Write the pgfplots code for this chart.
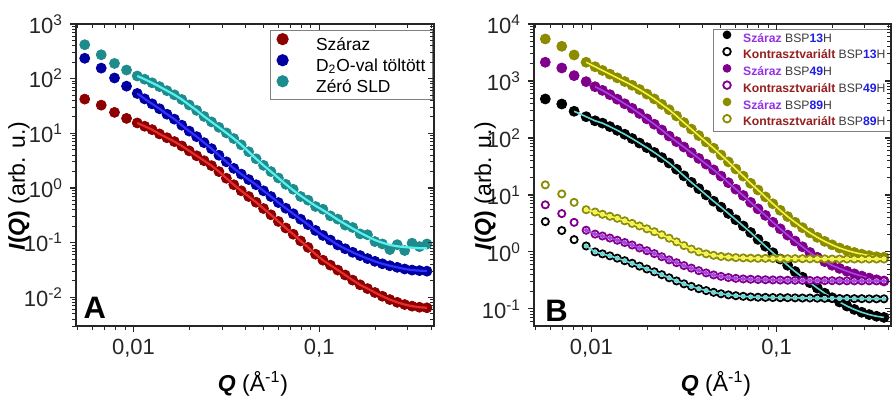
\documentclass[border=0pt]{standalone}
\usepackage{pgfplots}
\pgfplotsset{compat=1.18}
\usepackage{pgfplotstable}
\usepackage{fontspec}
\setmainfont{Liberation Sans}
\definecolor{cRed}{RGB}{140,0,0}
\definecolor{cRedFit}{RGB}{230,45,45}
\definecolor{cBlue}{RGB}{0,0,160}
\definecolor{cBlueFit}{RGB}{50,50,255}
\definecolor{cTeal}{RGB}{30,140,140}
\definecolor{cTealFit}{RGB}{90,240,240}
\definecolor{cPurp}{RGB}{128,0,140}
\definecolor{cPurpFit}{RGB}{165,70,225}
\definecolor{cOlive}{RGB}{140,140,0}
\definecolor{cOliveFit}{RGB}{245,245,70}
\definecolor{cCyanFit}{RGB}{100,215,215}
\definecolor{cViolet}{RGB}{150,50,230}
\definecolor{cBrown}{RGB}{150,30,30}
\definecolor{cNum}{RGB}{30,30,230}
\definecolor{cGrayT}{RGB}{60,60,60}

\pgfplotstableread{
Q R B T Tf
0.00546 42.3 236 418 418
0.0067 32.8 156 274 274
0.0079 24.2 103 190 190
0.00917 18.8 73 144 144
0.01047 15.5 53.7 112 112
0.01148 13.5 42.7 97.7 97.7
0.01259 11.7 34.7 84.1 84.1
0.01380 9.77 28.2 71.6 71.6
0.01514 8.32 22.4 60.3 60.3
0.01660 7.08 18.2 50.7 50.7
0.01820 5.89 14.1 41.7 41.7
0.01995 4.79 11.0 33.1 33.1
0.02188 3.89 8.71 26.3 26.3
0.02399 3.16 6.76 20.4 20.4
0.02630 2.57 5.25 16.2 16.2
0.02884 2.00 3.98 12.9 12.9
0.03162 1.51 3.02 10.2 10.2
0.03467 1.15 2.29 8.04 8.04
0.03802 0.891 1.80 6.17 6.17
0.04169 0.700 1.43 4.62 4.62
0.04571 0.550 1.15 3.43 3.43
0.05012 0.422 0.891 2.60 2.60
0.05495 0.324 0.700 2.00 2.00
0.06026 0.245 0.543 1.53 1.53
0.06607 0.186 0.427 1.17 1.17
0.07244 0.143 0.339 0.95 0.912
0.07943 0.108 0.269 0.70 0.724
0.08710 0.0822 0.214 0.60 0.582
0.09550 0.0617 0.168 0.46 0.473
0.1047 0.0479 0.136 0.41 0.394
0.1148 0.0389 0.112 0.31 0.324
0.1259 0.0316 0.0912 0.27 0.263
0.1380 0.0257 0.0776 0.21 0.219
0.1514 0.0207 0.0668 0.19 0.182
0.1660 0.0170 0.0582 0.145 0.153
0.1820 0.0145 0.0513 0.14 0.130
0.1995 0.0123 0.0457 0.105 0.112
0.2188 0.0105 0.0412 0.095 0.100
0.2399 0.00912 0.0380 0.075 0.0912
0.2630 0.00813 0.0355 0.092 0.0861
0.2884 0.00741 0.0331 0.072 0.0832
0.3162 0.00692 0.0316 0.098 0.0813
0.3467 0.00661 0.0309 0.085 0.0794
0.3802 0.00646 0.0302 0.095 0.0794
}\tabA

\pgfplotstableread{
Q K P O Ko Po Oo
0.00564 483 2130 5460 3.4 6.7 15
0.00692 394 1690 4060 2.37 4.7 10.4
0.00807 294 1240 2860 1.64 3.3 7.4
0.00937 236 973 2130 1.27 2.4 5.5
0.01047 200 794 1778 1.00 2.05 5.01
0.01148 182 684 1531 0.923 1.90 4.57
0.01259 158 575 1318 0.851 1.75 4.22
0.01380 136 479 1135 0.776 1.60 3.89
0.01514 116 398 977 0.700 1.46 3.51
0.01660 97.7 331 841 0.631 1.32 3.16
0.01820 81.3 269 708 0.562 1.17 2.85
0.01995 67.6 216 589 0.501 1.05 2.54
0.02188 55.6 174 484 0.447 0.933 2.26
0.02399 45.2 138 389 0.398 0.822 2.00
0.02630 36.3 108 313 0.351 0.724 1.74
0.02884 28.2 86.1 243 0.309 0.646 1.50
0.03162 21.6 69.2 186 0.275 0.575 1.29
0.03467 16.6 55.0 143 0.248 0.519 1.12
0.03802 12.9 43.7 110 0.226 0.468 1.00
0.04169 10.0 34.7 85.1 0.209 0.427 0.923
0.04571 7.76 27.5 66.1 0.195 0.394 0.871
0.05012 6.10 21.4 50.1 0.184 0.372 0.832
0.05495 4.73 16.4 38.0 0.176 0.355 0.813
0.06026 3.67 12.6 28.5 0.170 0.343 0.794
0.06607 2.85 9.77 21.4 0.166 0.335 0.785
0.07244 2.19 7.41 16.0 0.162 0.331 0.776
0.07943 1.66 5.69 12.2 0.160 0.327 0.77
0.08710 1.26 4.37 9.23 0.159 0.324 0.77
0.09550 0.966 3.31 7.00 0.158 0.322 0.765
0.1047 0.750 2.54 5.37 0.157 0.320 0.765
0.1148 0.582 1.97 4.17 0.157 0.318 0.76
0.1259 0.452 1.55 3.31 0.156 0.317 0.76
0.1380 0.359 1.23 2.66 0.155 0.316 0.76
0.1514 0.288 0.977 2.16 0.155 0.315 0.755
0.1660 0.232 0.804 1.80 0.154 0.314 0.755
0.1820 0.188 0.676 1.53 0.153 0.313 0.755
0.1995 0.157 0.582 1.33 0.153 0.312 0.75
0.2188 0.132 0.513 1.17 0.152 0.311 0.75
0.2399 0.112 0.457 1.06 0.152 0.31 0.75
0.2630 0.0977 0.412 0.977 0.151 0.31 0.75
0.2884 0.0871 0.376 0.912 0.151 0.31 0.75
0.3162 0.0794 0.347 0.861 0.150 0.31 0.75
0.3467 0.0741 0.324 0.822 0.150 0.31 0.75
0.3802 0.0708 0.309 0.804 0.150 0.31 0.75
}\tabB

\begin{document}
\begin{tikzpicture}
\useasboundingbox (0,0) rectangle (446.5pt,198.5pt);

% ---------- Panel A ----------
\begin{axis}[scale only axis, width=179pt, height=151pt,
  xmode=log, ymode=log, xmin=0.0049, xmax=0.415, ymin=0.003, ymax=1000,
  at={(38pt,35.5pt)}, anchor=south west, clip marker paths=true,
  xtick={0.01,0.1}, xticklabels={{0,01},{0,1}},
  minor xtick={0.005,0.006,0.007,0.008,0.009,0.02,0.03,0.04,0.05,0.06,0.07,0.08,0.09,0.2,0.3,0.4},
  ytick={0.01,0.1,1,10,100,1000},
  yticklabels={10\textsuperscript{-2},10\textsuperscript{-1},10\textsuperscript{0},10\textsuperscript{1},10\textsuperscript{2},10\textsuperscript{3}},
  minor ytick={0.003,0.004,0.005,0.006,0.007,0.008,0.009,0.02,0.03,0.04,0.05,0.06,0.07,0.08,0.09,0.2,0.3,0.4,0.5,0.6,0.7,0.8,0.9,2,3,4,5,6,7,8,9,20,30,40,50,60,70,80,90,200,300,400,500,600,700,800,900},
  axis line style={line width=0.75pt, black!85},
  major tick style={black!85, line width=0.6pt}, minor tick style={black!85, line width=0.5pt},
  major tick length=3pt, minor tick length=1.8pt,
  tick label style={font=\fontsize{11}{12}\selectfont, text=black!85},
  xtick pos=left, ytick pos=left, tick align=outside,
  legend cell align=left,
  legend style={at={(0.997,0.98)}, anchor=north east, draw=black!50, line width=0.5pt,
    font=\fontsize{8.7}{10}\selectfont, inner xsep=1.5pt, inner ysep=1.5pt, row sep=0.3pt,
    nodes={inner ysep=0.5pt}},
  legend image code/.code={\path (0pt,0pt) (19pt,0pt); \draw[#1, mark size=2.8pt] plot coordinates {(4.5pt,3pt)};}]
\addplot[only marks, mark=*, mark size=2.5pt, color=cRed, mark options={fill=cRed}] table[x=Q,y=R]{\tabA};
\addlegendentry{Száraz}
\addplot[color=cRedFit, line width=1.1pt, no marks, forget plot, skip coords between index={0}{4}] table[x=Q,y=R]{\tabA};
\addplot[only marks, mark=*, mark size=2.5pt, color=cBlue, mark options={fill=cBlue}] table[x=Q,y=B]{\tabA};
\addlegendentry{D\textsubscript{2}O-val töltött}
\addplot[color=cBlueFit, line width=1.1pt, no marks, forget plot, skip coords between index={0}{4}] table[x=Q,y=B]{\tabA};
\addplot[only marks, mark=*, mark size=2.5pt, color=cTeal, mark options={fill=cTeal}] table[x=Q,y=T]{\tabA};
\addlegendentry{Zéró SLD}
\addplot[color=cTealFit, line width=1.1pt, no marks, forget plot, skip coords between index={0}{4}] table[x=Q,y=Tf]{\tabA};
\node[anchor=south west, inner sep=0pt, font=\fontsize{15.5}{15.5}\selectfont\bfseries] at (rel axis cs:0.02,0.023) {A};
\end{axis}
\begin{axis}[scale only axis, width=179pt, height=151pt,
  xmode=log, ymode=log, xmin=0.0049, xmax=0.415, ymin=0.003, ymax=1000,
  at={(38pt,35.5pt)}, anchor=south west,
  xtick={0.01,0.1}, xticklabels={},
  minor xtick={0.005,0.006,0.007,0.008,0.009,0.02,0.03,0.04,0.05,0.06,0.07,0.08,0.09,0.2,0.3,0.4},
  ytick={0.01,0.1,1,10,100,1000}, yticklabels={},
  minor ytick={0.003,0.004,0.005,0.006,0.007,0.008,0.009,0.02,0.03,0.04,0.05,0.06,0.07,0.08,0.09,0.2,0.3,0.4,0.5,0.6,0.7,0.8,0.9,2,3,4,5,6,7,8,9,20,30,40,50,60,70,80,90,200,300,400,500,600,700,800,900},
  axis line style={line width=0.75pt, black!85},
  major tick style={black!85, line width=0.6pt}, minor tick style={black!85, line width=0.5pt},
  major tick length=3pt, minor tick length=1.8pt,
  xtick pos=right, ytick pos=right, tick align=inside]
\addplot[draw=none, no marks, forget plot] coordinates {(0.01,1) (0.1,10)};
\end{axis}

% ---------- Panel B ----------
\begin{axis}[scale only axis, width=178.5pt, height=151pt,
  xmode=log, ymode=log, xmin=0.0049, xmax=0.415, ymin=0.05, ymax=10000,
  at={(267pt,35.5pt)}, anchor=south west, clip marker paths=true,
  xtick={0.01,0.1}, xticklabels={{0,01},{0,1}},
  minor xtick={0.005,0.006,0.007,0.008,0.009,0.02,0.03,0.04,0.05,0.06,0.07,0.08,0.09,0.2,0.3,0.4},
  ytick={0.1,1,10,100,1000,10000},
  yticklabels={10\textsuperscript{-1},10\textsuperscript{0},10\textsuperscript{1},10\textsuperscript{2},10\textsuperscript{3},10\textsuperscript{4}},
  minor ytick={0.06,0.07,0.08,0.09,0.2,0.3,0.4,0.5,0.6,0.7,0.8,0.9,2,3,4,5,6,7,8,9,20,30,40,50,60,70,80,90,200,300,400,500,600,700,800,900,2000,3000,4000,5000,6000,7000,8000,9000},
  axis line style={line width=0.75pt, black!85},
  major tick style={black!85, line width=0.6pt}, minor tick style={black!85, line width=0.5pt},
  major tick length=3pt, minor tick length=1.8pt,
  tick label style={font=\fontsize{11}{12}\selectfont, text=black!85},
  xtick pos=left, ytick pos=left, tick align=outside,
  legend cell align=left,
  legend style={at={(1.0,0.985)}, anchor=north east, draw=black!50, line width=0.5pt,
    font=\fontsize{6.1}{7}\selectfont, inner xsep=0.5pt, inner ysep=1pt, row sep=1pt,
    nodes={inner ysep=0.4pt}},
  legend image code/.code={\path (0pt,0pt) (12pt,0pt); \draw[#1, mark size=1.9pt] plot coordinates {(6.2pt,2.1pt)};}]
\addplot[only marks, mark=*, mark size=2.5pt, color=black, mark options={fill=black}] table[x=Q,y=K]{\tabB};
\addlegendentry{\textcolor{cViolet}{\textbf{Száraz}} \textcolor{cGrayT}{BSP}\textcolor{cNum}{\textbf{13}}\textcolor{cGrayT}{H}}
\addplot[color=cCyanFit, line width=0.8pt, no marks, forget plot, skip coords between index={0}{2}] table[x=Q,y=K]{\tabB};
\addplot[only marks, mark=*, mark size=1.8pt, color=black, mark options={fill=white, line width=0.9pt}] table[x=Q,y=Ko]{\tabB};
\addlegendentry{\textcolor{cBrown}{\textbf{Kontrasztvariált}} \textcolor{cGrayT}{BSP}\textcolor{cNum}{\textbf{13}}\textcolor{cGrayT}{H}}
\addplot[color=cCyanFit, line width=0.8pt, mark=*, mark size=0.7pt, forget plot, skip coords between index={0}{3}] table[x=Q,y=Ko]{\tabB};
\addplot[only marks, mark=*, mark size=2.5pt, color=cPurp, mark options={fill=cPurp}] table[x=Q,y=P]{\tabB};
\addlegendentry{\textcolor{cViolet}{\textbf{Száraz}} \textcolor{cGrayT}{BSP}\textcolor{cNum}{\textbf{49}}\textcolor{cGrayT}{H}}
\addplot[color=cPurpFit, line width=0.8pt, no marks, forget plot, skip coords between index={0}{4}] table[x=Q,y=P]{\tabB};
\addplot[only marks, mark=*, mark size=1.8pt, color=cPurp, mark options={fill=white, line width=0.9pt}] table[x=Q,y=Po]{\tabB};
\addlegendentry{\textcolor{cBrown}{\textbf{Kontrasztvariált}} \textcolor{cGrayT}{BSP}\textcolor{cNum}{\textbf{49}}\textcolor{cGrayT}{H}}
\addplot[color=cPurpFit, line width=0.8pt, mark=*, mark size=0.7pt, forget plot, skip coords between index={0}{3}] table[x=Q,y=Po]{\tabB};
\addplot[only marks, mark=*, mark size=2.5pt, color=cOlive, mark options={fill=cOlive}] table[x=Q,y=O]{\tabB};
\addlegendentry{\textcolor{cViolet}{\textbf{Száraz}} \textcolor{cGrayT}{BSP}\textcolor{cNum}{\textbf{89}}\textcolor{cGrayT}{H}}
\addplot[color=cOliveFit, line width=0.8pt, no marks, forget plot, skip coords between index={0}{3}] table[x=Q,y=O]{\tabB};
\addplot[only marks, mark=*, mark size=1.8pt, color=cOlive, mark options={fill=white, line width=0.9pt}] table[x=Q,y=Oo]{\tabB};
\addlegendentry{\textcolor{cBrown}{\textbf{Kontrasztvariált}} \textcolor{cGrayT}{BSP}\textcolor{cNum}{\textbf{89}}\textcolor{cGrayT}{H}}
\addplot[color=cOliveFit, line width=0.8pt, mark=*, mark size=0.7pt, forget plot, skip coords between index={0}{3}] table[x=Q,y=Oo]{\tabB};
\node[anchor=south west, inner sep=0pt, font=\fontsize{15.5}{15.5}\selectfont\bfseries] at (rel axis cs:0.031,0.013) {B};
\end{axis}
\begin{axis}[scale only axis, width=178.5pt, height=151pt,
  xmode=log, ymode=log, xmin=0.0049, xmax=0.415, ymin=0.05, ymax=10000,
  at={(267pt,35.5pt)}, anchor=south west,
  xtick={0.01,0.1}, xticklabels={},
  minor xtick={0.005,0.006,0.007,0.008,0.009,0.02,0.03,0.04,0.05,0.06,0.07,0.08,0.09,0.2,0.3,0.4},
  ytick={0.1,1,10,100,1000,10000}, yticklabels={},
  minor ytick={0.06,0.07,0.08,0.09,0.2,0.3,0.4,0.5,0.6,0.7,0.8,0.9,2,3,4,5,6,7,8,9,20,30,40,50,60,70,80,90,200,300,400,500,600,700,800,900,2000,3000,4000,5000,6000,7000,8000,9000},
  axis line style={line width=0.75pt, black!85},
  major tick style={black!85, line width=0.6pt}, minor tick style={black!85, line width=0.5pt},
  major tick length=3pt, minor tick length=1.8pt,
  xtick pos=right, ytick pos=right, tick align=inside]
\addplot[draw=none, no marks, forget plot] coordinates {(0.01,1) (0.1,10)};
\end{axis}

% ---------- axis titles ----------
\node[rotate=90, anchor=base, font=\fontsize{11.5}{12}\selectfont] at (12.5pt,105.5pt)
  {{\bfseries\itshape I}{\bfseries(}{\bfseries\itshape Q}{\bfseries)} (arb. u.)};
\node[rotate=90, anchor=base, font=\fontsize{11.5}{12}\selectfont] at (245.5pt,105.5pt)
  {{\bfseries\itshape I}{\bfseries(}{\bfseries\itshape Q}{\bfseries)} (arb. u.)};
\node[anchor=base, font=\fontsize{11.5}{12}\selectfont] at (126.5pt,2.8pt)
  {{\bfseries\itshape Q} (Å\textsuperscript{-1})};
\node[anchor=base, font=\fontsize{11.5}{12}\selectfont] at (358pt,2.8pt)
  {{\bfseries\itshape Q} (Å\textsuperscript{-1})};
\end{tikzpicture}
\end{document}
